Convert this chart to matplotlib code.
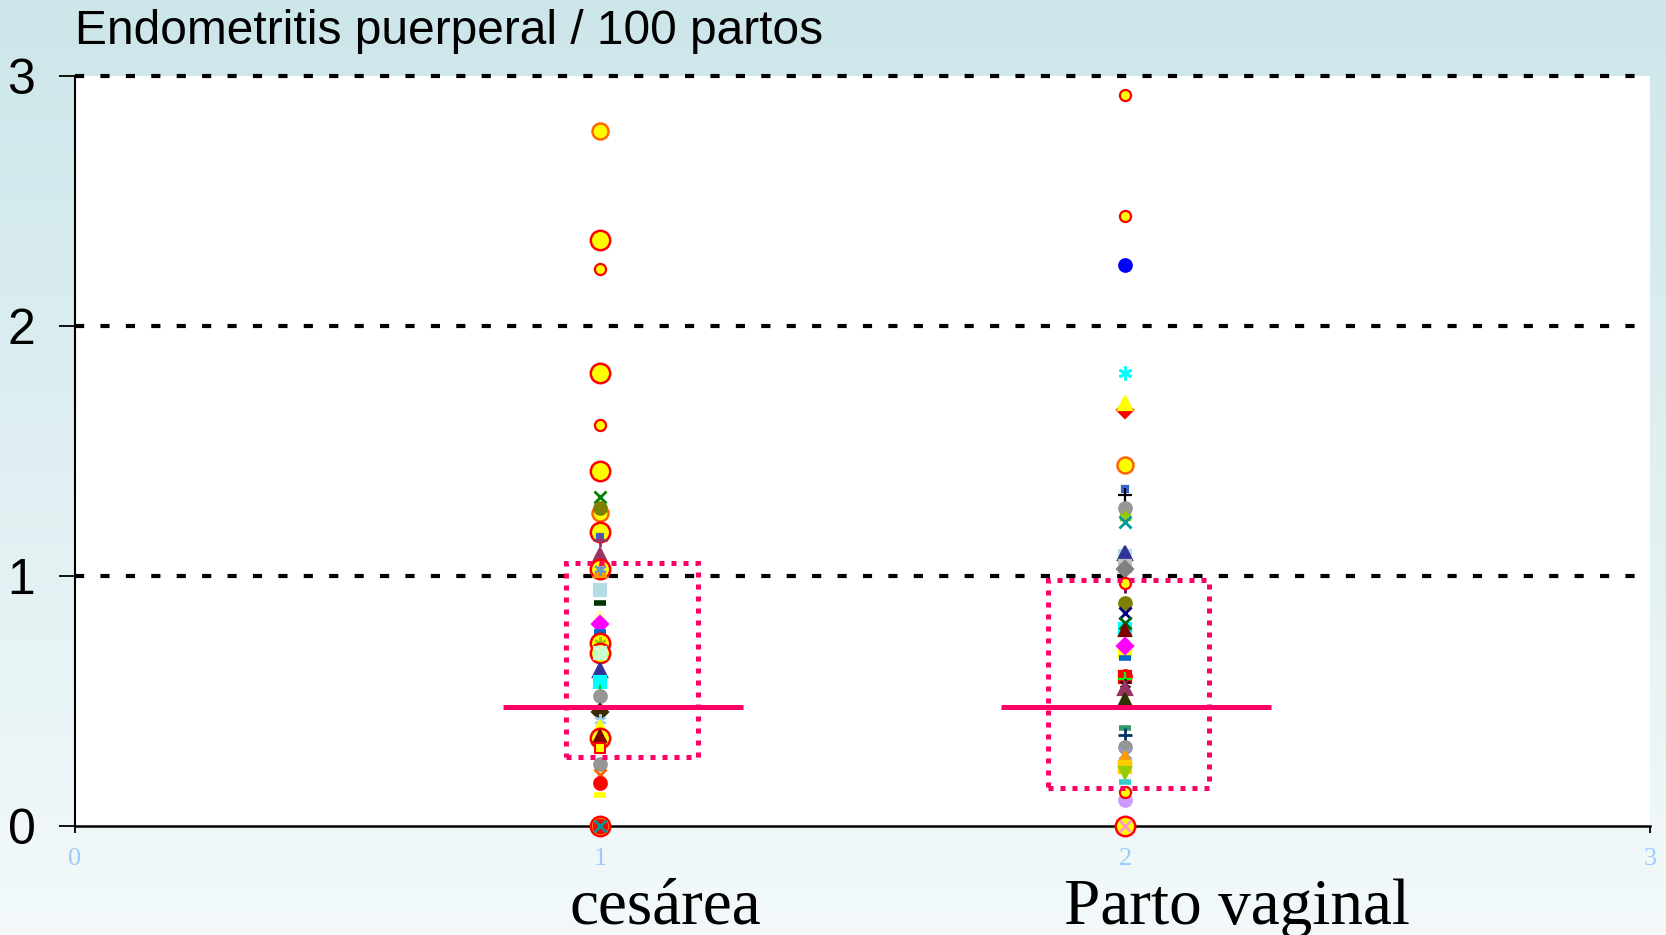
import matplotlib.pyplot as plt
import numpy as np
from matplotlib.patches import Rectangle
from matplotlib.transforms import blended_transform_factory

# Data: rate per 100 births, one value per hospital marker
categories = ["cesárea", "Parto vaginal"]
cat_x = [1, 2]

ces_vals = [2.781, 2.344, 2.228, 1.813, 1.604, 1.420, 1.317, 1.253, 1.271,
            1.177, 1.155, 1.145, 1.084, 1.027, 1.020, 1.030, 0.944, 0.891,
            0.837, 0.808, 0.777, 0.731, 0.731, 0.691, 0.691, 0.624, 0.577,
            0.550, 0.520, 0.457, 0.424, 0.397, 0.351, 0.360, 0.311, 0.248,
            0.204, 0.171, 0.124, 0.0, 0.0, 0.0]
ces_style = ["co", "cb", "cs", "cb", "cs", "cb", "x_green", "co", "o_olive",
             "cb", "s_blue", "p_purple", "t_purple", "cb", "t_orange", "a_steel",
             "s_lblue", "m_dgreen", "t_lyellow", "d_magenta", "m_blue", "cb",
             "a_ygreen", "cb", "s_lgreen", "t_navy", "s_cyan", "v_green",
             "o_gray", "d_dbrown", "a_lav", "t_yellow", "cb", "t_dred",
             "s_yred", "o_gray", "x_orange", "o_red", "m_yellow", "cb",
             "o_redbig", "x_teal"]

vag_vals = [2.924, 2.440, 2.244, 1.811, 1.664, 1.691, 1.444, 1.350, 1.324,
            1.271, 1.237, 1.217, 1.080, 1.093, 1.040, 1.027, 0.950, 0.971,
            0.891, 0.851, 0.790, 0.811, 0.784, 0.700, 0.721, 0.671, 0.600,
            0.597, 0.590, 0.570, 0.551, 0.504, 0.391, 0.364, 0.317, 0.292,
            0.277, 0.237, 0.212, 0.177, 0.104, 0.137, 0.0, 0.0]
vag_style = ["cs", "cs", "o_blue", "a_cyan", "d_red", "t_yellow", "co",
             "s_blue", "p_black", "o_gray", "a_ygreen", "x_teal", "s_lblue",
             "t_navy", "s_lgray", "d_gray", "v_purple", "cs", "o_olive",
             "x_navy", "s_cyan", "x_dgreen", "t_dred", "s_yellow", "d_magenta",
             "m_blue", "o_red", "s_red", "p_lime", "a_black", "t_purple",
             "t_dolive", "m_teal", "p_dnavy", "o_gray", "x_lav", "t_orange",
             "s_gold", "tv_ygreen", "m_cyan", "o_lav", "cs", "cb", "x_pink"]

# interquartile boxes (x0, x1, y0, y1) and median line (x0, x1, y)
box_x = [(0.936, 1.186), (1.854, 2.160)]
box_y = [(0.278, 1.052), (0.153, 0.984)]
med_x = [(0.815, 1.273), (1.763, 2.279)]
med_y = [0.477, 0.475]

# ---- marker styles ----
def mk(marker, color, ms=9, mec=None, mew=1.6):
    return dict(marker=marker, ms=ms, mfc=color, mec=mec or color, mew=mew)

AST = (6, 2, 0)
STYLES = {
    "cb": mk("o", "#ffff00", 14, "#ff0000", 1.8),
    "cs": mk("o", "#ffff00", 8, "#ff0000", 1.6),
    "co": mk("o", "#ffff00", 11.5, "#ff6600", 1.8),
    "x_green": mk("x", "#008000", 9, mew=2),
    "o_olive": mk("o", "#808000", 9),
    "s_blue": mk("s", "#3366cc", 5),
    "p_purple": mk("+", "#993366", 10, mew=2),
    "t_purple": mk("^", "#993366", 10),
    "t_orange": mk("^", "#ff9900", 9),
    "a_steel": mk(AST, "#6699cc", 9, mew=1.5),
    "s_lblue": mk("s", "#b4dce4", 9),
    "m_dgreen": mk("_", "#003300", 9, mew=4),
    "t_lyellow": mk("^", "#ffff99", 9),
    "d_magenta": mk("D", "#ff00ff", 8),
    "m_blue": mk("_", "#0066cc", 8, mew=4),
    "a_ygreen": mk(AST, "#99cc00", 9, mew=1.5),
    "s_lgreen": mk("s", "#ccffcc", 9),
    "t_navy": mk("^", "#333399", 10),
    "s_cyan": mk("s", "#00ffff", 9),
    "v_green": mk("|", "#00cc00", 6, mew=1.5),
    "o_gray": mk("o", "#969696", 9),
    "d_dbrown": mk("D", "#3d2b00", 8),
    "a_lav": mk(AST, "#99ccff", 9, mew=1.5),
    "t_yellow": mk("^", "#ffff00", 10),
    "t_dred": mk("^", "#800000", 9),
    "s_yred": mk("s", "#ffff00", 7, "#ff0000", 1.5),
    "x_orange": mk("x", "#ff6600", 8, mew=2),
    "o_red": mk("o", "#ff0000", 9),
    "m_yellow": mk("_", "#ffff00", 9, mew=4),
    "o_redbig": mk("o", "#ff0000", 10),
    "x_teal": mk("x", "#009999", 8, mew=2),
    "o_blue": mk("o", "#0000ff", 9),
    "a_cyan": mk(AST, "#00ffff", 10, mew=2),
    "d_red": mk("D", "#ff0000", 8),
    "p_black": mk("+", "#000000", 10, mew=1.6),
    "s_lgray": mk("s", "#c0c0c0", 8),
    "d_gray": mk("D", "#808080", 8),
    "v_purple": mk("|", "#660066", 6, mew=2),
    "x_navy": mk("x", "#000080", 9, mew=2),
    "x_dgreen": mk("x", "#006600", 9, mew=2),
    "s_yellow": mk("s", "#ffff00", 8),
    "s_red": mk("s", "#ff0000", 8),
    "p_lime": mk("+", "#00ff00", 10, mew=1.6),
    "a_black": mk(AST, "#000000", 8, mew=1.2),
    "t_dolive": mk("^", "#333300", 10),
    "m_teal": mk("_", "#339966", 8, mew=4),
    "p_dnavy": mk("+", "#003366", 10, mew=2),
    "x_lav": mk("x", "#9999cc", 8, mew=2),
    "s_gold": mk("s", "#ffcc00", 9),
    "tv_ygreen": mk("v", "#99cc00", 9),
    "m_cyan": mk("_", "#33cccc", 9, mew=4),
    "o_lav": mk("o", "#cc99ff", 9),
    "x_pink": mk("x", "#ff99cc", 8, mew=2),
}

PINK = "#ff0066"

fig = plt.figure(figsize=(16.66, 9.35), dpi=100)

# light blue vertical gradient behind everything
bg = fig.add_axes([0, 0, 1, 1], zorder=-10)
top = np.array([205, 230, 234]) / 255
bot = np.array([243, 249, 250]) / 255
t = np.linspace(0, 1, 256)[:, None]
grad = (top * (1 - t) + bot * t)[:, None, :]
bg.imshow(grad, aspect="auto", extent=[0, 1, 0, 1])
bg.axis("off")

ax = fig.add_axes([75 / 1666, 109 / 935, 1575 / 1666, 750 / 935])
ax.set_facecolor("white")
ax.set_xlim(0, 3)
ax.set_ylim(0, 3)

for y in [1, 2, 3]:
    ax.axhline(y, color="black", lw=3, ls=(0, (2.2, 3.9)), zorder=1,
               clip_on=False)

for x, vals, styles in [(cat_x[0], ces_vals, ces_style),
                        (cat_x[1], vag_vals, vag_style)]:
    for v, s in zip(vals, styles):
        ax.plot([x], [v], ls="none", clip_on=False, zorder=3, **STYLES[s])

for (x0, x1), (y0, y1) in zip(box_x, box_y):
    ax.add_patch(Rectangle((x0, y0), x1 - x0, y1 - y0, fill=False,
                           ec=PINK, lw=3.6, ls=(0, (1.0, 1.4)), zorder=4))
for (x0, x1), y in zip(med_x, med_y):
    ax.plot([x0, x1], [y, y], color=PINK, lw=3.6, zorder=5,
            solid_capstyle="butt")

for side in ["top", "right"]:
    ax.spines[side].set_visible(False)
ax.spines["left"].set_linewidth(1.5)
ax.spines["bottom"].set_linewidth(1.8)
ax.spines["left"].set_zorder(2)

ax.set_yticks([0, 1, 2, 3])
ax.set_yticklabels(["0", "1", "2", "3"], fontsize=36, family="Liberation Sans")
ax.tick_params(axis="y", length=11.5, width=1.3, pad=17)
ax.set_xticks([0, 1, 2, 3])
ax.set_xticklabels(["0", "1", "2", "3"], fontsize=19, family="Liberation Serif",
                   color="#99ccff")
ax.tick_params(axis="x", length=5, width=1.3, pad=11)

fig.text(75 / 1666, 1 - 43.5 / 935, "Endometritis puerperal / 100 partos",
         fontsize=34.5, family="Liberation Sans", va="baseline", ha="left")

trans = blended_transform_factory(ax.transData, fig.transFigure)
for x, label in zip([1.125, 2.213], categories):
    ax.text(x, 1 - 924 / 935, label, transform=trans, ha="center",
            va="baseline", fontsize=47, family="Liberation Serif",
            clip_on=False)

fig.savefig("out.png", dpi=100)
